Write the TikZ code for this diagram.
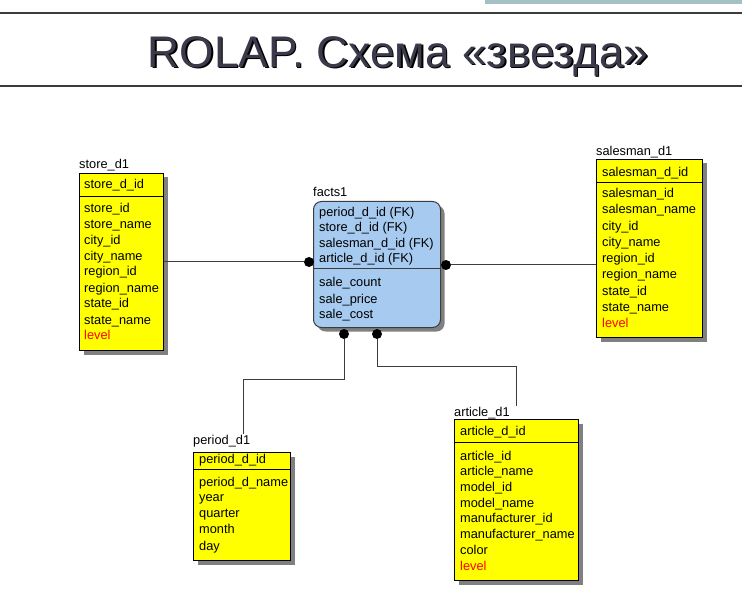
\documentclass[tikz,border=0pt]{standalone}
\usepackage{fontspec}
\setmainfont{Liberation Sans}
\usetikzlibrary{shadows}

\definecolor{dimyellow}{RGB}{255,255,0}
\definecolor{factblue}{RGB}{166,202,240}
\definecolor{titlegray}{RGB}{58,58,74}
\definecolor{barteal}{RGB}{165,192,197}
\definecolor{linegray}{RGB}{60,60,60}

\tikzset{table/.style={draw=black,line width=1pt,fill=dimyellow,anchor=north west,inner sep=0pt,
  drop shadow={shadow xshift=4pt,shadow yshift=-4pt,fill=black!50,opacity=1}},
fact table/.style={table,fill=factblue,draw=linegray,rounded corners=8pt},
attr/.style={font=\fontsize{12.8}{14}\selectfont,anchor=west,text height=10pt,text depth=2pt,inner sep=0pt},
key attr/.style={attr},
extra attr/.style={attr,text=red},
table name/.style={attr},
conn/.style={draw=linegray,line width=1pt},
end dot/.style={circle,fill=black,inner sep=0pt,minimum size=10pt},
rule/.style={draw=black,line width=1pt}}

\begin{document}
\begin{tikzpicture}[x=1pt,y=-1pt]
\useasboundingbox (0,0) rectangle (742,604);

%% slide header
\fill [barteal] (485,0) rectangle (742,4.5);
\draw [linegray,line width=1.5pt] (0,13) -- (742,13);
\draw [linegray,line width=1.5pt] (0,86) -- (742,86);
\node [font=\fontsize{44.3}{47}\selectfont,text=black] at (399.5,57.5) {ROLAP. Схема «звезда»};
\node [font=\fontsize{44.3}{47}\selectfont,text=titlegray] (title) at (398,56) {ROLAP. Схема «звезда»};

%% store_d1
\node [table,minimum width=84,minimum height=177] (store) at (79,173) {};
\draw [rule] (79,197) -- (163,197);
\node [table name] (storelbl) at (79,165) {store\_d1};
\node [key attr] at (84,185) {store\_d\_id};
\node [attr] at (84,209) {store\_id};
\node [attr] at (84,225) {store\_name};
\node [attr] at (84,241) {city\_id};
\node [attr] at (84,257) {city\_name};
\node [attr] at (84,272) {region\_id};
\node [attr] at (84,288) {region\_name};
\node [attr] at (84,304) {state\_id};
\node [attr] at (84,320) {state\_name};
\node [extra attr] at (84,335) {level};

%% salesman_d1
\node [table,minimum width=106,minimum height=178] (salesman) at (596,159) {};
\draw [rule] (596,183) -- (702,183);
\node [table name] (salesmanlbl) at (596,152) {salesman\_d1};
\node [key attr] at (602,173) {salesman\_d\_id};
\node [attr] at (602,194) {salesman\_id};
\node [attr] at (602,210) {salesman\_name};
\node [attr] at (602,227) {city\_id};
\node [attr] at (602,243) {city\_name};
\node [attr] at (602,259) {region\_id};
\node [attr] at (602,275) {region\_name};
\node [attr] at (602,291) {state\_id};
\node [attr] at (602,307) {state\_name};
\node [extra attr] at (602,323) {level};

%% facts1
\node [fact table,minimum width=127,minimum height=126] (facts) at (313,201) {};
\draw [draw=linegray,line width=1pt] (313,269) -- (440,269);
\node [table name] (factslbl) at (313,193) {facts1};
\node [attr] at (319,213) {period\_d\_id (FK)};
\node [attr] at (319,228) {store\_d\_id (FK)};
\node [attr] at (319,244) {salesman\_d\_id (FK)};
\node [attr] at (319,259) {article\_d\_id (FK)};
\node [attr] at (319,283) {sale\_count};
\node [attr] at (319,299) {sale\_price};
\node [attr] at (319,314) {sale\_cost};

%% period_d1
\node [table,minimum width=97,minimum height=108] (period) at (193,452) {};
\draw [rule] (193,469) -- (290,469);
\node [table name] (periodlbl) at (193,440) {period\_d1};
\node [key attr] at (199,459) {period\_d\_id};
\node [attr] at (199,482) {period\_d\_name};
\node [attr] at (199,497) {year};
\node [attr] at (199,513) {quarter};
\node [attr] at (199,529) {month};
\node [attr] at (199,546) {day};

%% article_d1
\node [table,minimum width=124,minimum height=161] (article) at (454,419) {};
\draw [rule] (454,442) -- (578,442);
\node [table name] (articlelbl) at (454,412) {article\_d1};
\node [key attr] at (460,431) {article\_d\_id};
\node [attr] at (460,456) {article\_id};
\node [attr] at (460,471) {article\_name};
\node [attr] at (460,487) {model\_id};
\node [attr] at (460,503) {model\_name};
\node [attr] at (460,518) {manufacturer\_id};
\node [attr] at (460,534) {manufacturer\_name};
\node [attr] at (460,550) {color};
\node [extra attr] at (460,566) {level};

%% relationship ends
\node [end dot] (dstore) at (309,262) {};
\node [end dot] (dsalesman) at (446,265) {};
\node [end dot] (dperiod) at (344,334) {};
\node [end dot] (darticle) at (377,334) {};
\coordinate (pbend) at (243,379);
\coordinate (abend) at (516,366);

%% connectors
\draw [conn] (dstore) -- (dstore -| store.east);
\draw [conn] (dsalesman) -- (dsalesman -| salesman.west);
\draw [conn] (dperiod) |- (pbend) -- (pbend |- periodlbl.north);
\draw [conn] (darticle) |- (abend) -- (abend |- articlelbl.north);

\end{tikzpicture}
\end{document}
